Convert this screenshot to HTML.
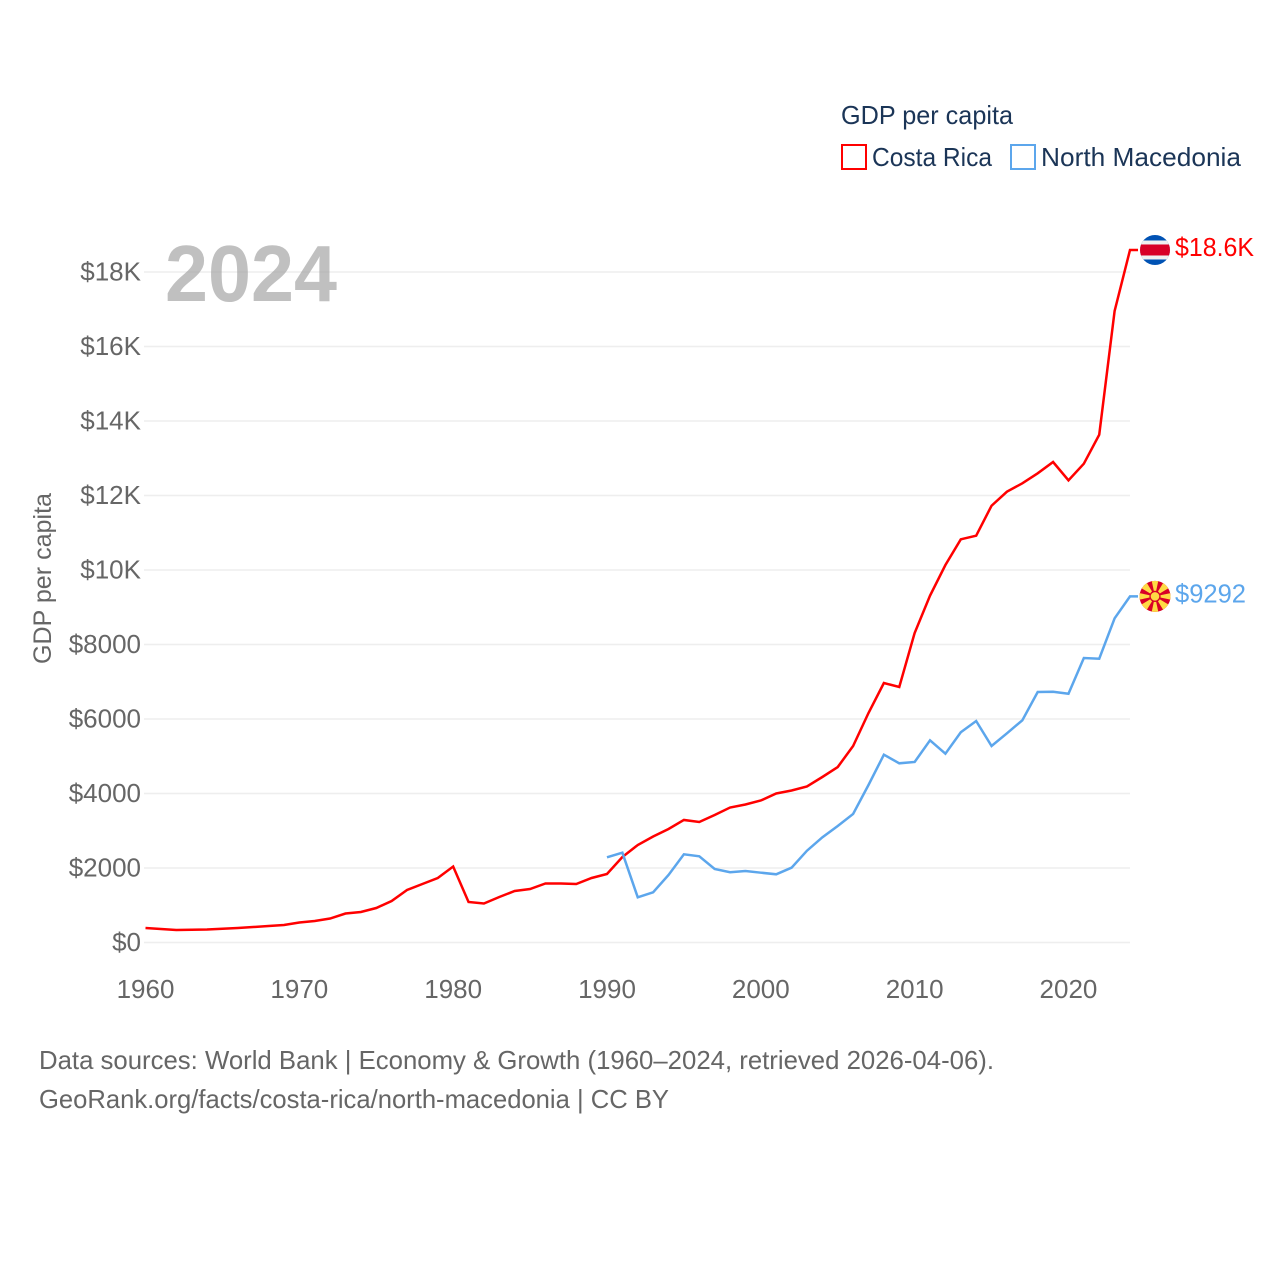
<!DOCTYPE html>
<html lang="en">
<head>
<meta charset="utf-8">
<title>GDP per capita: Costa Rica and North Macedonia</title>
<style>
html,body{margin:0;padding:0;background:#fff;}
svg{display:block;}
text{font-family:"Liberation Sans",sans-serif;}
</style>
</head>
<body>
<svg id="chart" xmlns="http://www.w3.org/2000/svg" width="1280" height="1280" viewBox="0 0 1280 1280">
  <rect x="0" y="0" width="1280" height="1280" fill="#ffffff"/>
  <g id="grid"></g>
  <text x="165" y="301" font-size="80" font-weight="700" fill="#a8a8a8" fill-opacity="0.72" textLength="172" lengthAdjust="spacingAndGlyphs">2024</text>
  <g id="y-ticks"></g>
  <g id="x-ticks"></g>
  <text transform="translate(51,664) rotate(-90)" font-size="25" fill="#666666" textLength="171" lengthAdjust="spacingAndGlyphs">GDP per capita</text>
  <g id="series"></g>

  <g id="flag-cr">
    <clipPath id="clip-cr"><circle cx="0" cy="0" r="15"/></clipPath>
    <g clip-path="url(#clip-cr)">
      <rect x="-15" y="-15" width="30" height="30" fill="#0052b4"/>
      <rect x="-15" y="-9.5" width="30" height="19" fill="#f0f0f0"/>
      <rect x="-15" y="-5.5" width="30" height="11" fill="#d80027"/>
    </g>
  </g>
  <g id="flag-mk">
    <clipPath id="clip-mk"><circle cx="0" cy="0" r="15.5"/></clipPath>
    <g clip-path="url(#clip-mk)">
      <rect x="-16" y="-16" width="32" height="32" fill="#d80027"/>
      <g fill="#ffda44">
        <polygon points="-3.4,-16 3.4,-16 0,0"/>
        <polygon points="-3.4,16 3.4,16 0,0"/>
        <polygon points="-16,-3.4 -16,3.4 0,0"/>
        <polygon points="16,-3.4 16,3.4 0,0"/>
        <polygon points="-14,-8.5 -8.5,-14 0,0"/>
        <polygon points="14,-8.5 8.5,-14 0,0"/>
        <polygon points="-14,8.5 -8.5,14 0,0"/>
        <polygon points="14,8.5 8.5,14 0,0"/>
      </g>
      <circle cx="0" cy="0" r="5.6" fill="#d80027"/>
      <circle cx="0" cy="0" r="4.3" fill="#ffda44"/>
    </g>
  </g>
  <text id="label-cr" x="1175" font-size="26" fill="#ff0000" textLength="79" lengthAdjust="spacingAndGlyphs"></text>
  <text id="label-mk" x="1175" font-size="26" fill="#5ca6ec" textLength="71" lengthAdjust="spacingAndGlyphs"></text>

  <g>
    <text x="841" y="124" font-size="26" fill="#1b3557" textLength="172" lengthAdjust="spacingAndGlyphs">GDP per capita</text>
    <rect x="842" y="145" width="24" height="24" fill="none" stroke="#ff0000" stroke-width="2"/>
    <text x="872" y="166" font-size="26" fill="#1b3557" textLength="120" lengthAdjust="spacingAndGlyphs">Costa Rica</text>
    <rect x="1011" y="145" width="24" height="24" fill="none" stroke="#5ca6ec" stroke-width="2"/>
    <text x="1041" y="166" font-size="26" fill="#1b3557" textLength="200" lengthAdjust="spacingAndGlyphs">North Macedonia</text>
  </g>

  <text x="39" y="1069" font-size="26" fill="#666666" textLength="955" lengthAdjust="spacingAndGlyphs">Data sources: World Bank | Economy &amp; Growth (1960–2024, retrieved 2026-04-06).</text>
  <text x="39" y="1108" font-size="26" fill="#666666" textLength="630" lengthAdjust="spacingAndGlyphs">GeoRank.org/facts/costa-rica/north-macedonia | CC BY</text>
</svg>
<script>
const costaRicaStartYear = 1960;
const costaRicaValues = [389,362,336,344,349,368,389,416,443,470,537,577,644,778,819,926,1114,1409,1570,1732,2040,1087,1047,1221,1383,1436,1584,1584,1570,1732,1839,2295,2617,2846,3047,3289,3235,3423,3624,3705,3812,4000,4080,4188,4443,4711,5275,6161,6966,6859,8309,9310,10134,10824,10921,11726,12102,12327,12596,12899,12408,12854,13632,16953,18591];
const macedoniaStartYear = 1990;
const macedoniaValues = [2287,2411,1213,1348,1812,2368,2314,1973,1885,1919,1874,1831,2008,2464,2824,3128,3450,4228,5042,4811,4846,5428,5069,5643,5946,5275,5616,5965,6725,6733,6679,7638,7619,8703,9292];
const yTickValues = [0,2000,4000,6000,8000,10000,12000,14000,16000,18000];
const yTickLabels = ["$0","$2000","$4000","$6000","$8000","$10K","$12K","$14K","$16K","$18K"];
const xTickValues = [1960,1970,1980,1990,2000,2010,2020];
const costaRicaEndLabel = "$18.6K";
const macedoniaEndLabel = "$9292";

const NS = "http://www.w3.org/2000/svg";
const X0 = 145.5, X1 = 1130, Y0 = 942.5, Y18K = 272;
function xScale(year){ return X0 + (year - 1960) * (X1 - X0) / 64; }
function yScale(v){ return Y0 - v * (Y0 - Y18K) / 18000; }
function make(tag, attrs, text){
  const el = document.createElementNS(NS, tag);
  for (const k in attrs) el.setAttribute(k, attrs[k]);
  if (text !== undefined) el.textContent = text;
  return el;
}

const gridG = document.getElementById("grid");
const yG = document.getElementById("y-ticks");
yTickValues.forEach(function(v, i){
  const y = yScale(v);
  const line = make("line", {x1:144, x2:X1, y1:y, y2:y, stroke:"#eeeeee", "stroke-width":1.6});
  
  
  gridG.appendChild(line);
  const t = make("text", {x:141, y:y + 8.5, "text-anchor":"end", "font-size":26, fill:"#666666"}, yTickLabels[i]);
  
  
  yG.appendChild(t);
});

const xG = document.getElementById("x-ticks");
xTickValues.forEach(function(yr){
  const t = make("text", {x:xScale(yr), y:998, "text-anchor":"middle", "font-size":26, fill:"#666666"}, String(yr));
  
  
  xG.appendChild(t);
});

function seriesPoints(startYear, values){
  const pts = values.map(function(v, i){ return xScale(startYear + i).toFixed(2) + "," + yScale(v).toFixed(2); });
  pts.push((X1 + 8) + "," + yScale(values[values.length - 1]).toFixed(2));
  return pts.join(" ");
}
const seriesG = document.getElementById("series");
const redLine = make("polyline", {points:seriesPoints(costaRicaStartYear, costaRicaValues), fill:"none", stroke:"#ff0000", "stroke-width":2.5, "stroke-linejoin":"miter"});


seriesG.appendChild(redLine);
const blueLine = make("polyline", {points:seriesPoints(macedoniaStartYear, macedoniaValues), fill:"none", stroke:"#5ca6ec", "stroke-width":2.5, "stroke-linejoin":"miter"});


seriesG.appendChild(blueLine);

const crY = yScale(costaRicaValues[costaRicaValues.length - 1]);
const mkY = yScale(macedoniaValues[macedoniaValues.length - 1]);
document.getElementById("flag-cr").setAttribute("transform", "translate(1155," + crY + ")");
document.getElementById("flag-mk").setAttribute("transform", "translate(1155," + mkY + ")");
const lc = document.getElementById("label-cr");
lc.setAttribute("y", crY + 6);
lc.textContent = costaRicaEndLabel;
const lm = document.getElementById("label-mk");
lm.setAttribute("y", mkY + 6);
lm.textContent = macedoniaEndLabel;
</script>
</body>
</html>
